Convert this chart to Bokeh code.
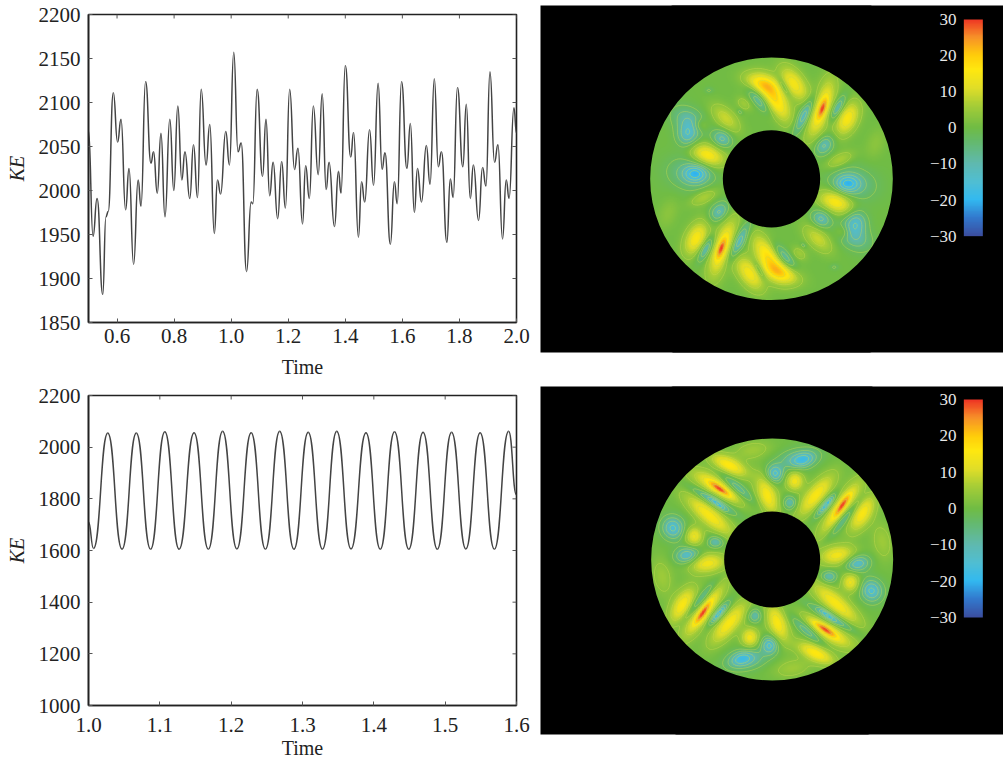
import numpy as np
from bokeh.embed import file_html
from bokeh.resources import INLINE
from bokeh.core.properties import value
from bokeh.layouts import column, row
from bokeh.models import ColumnDataSource, FixedTicker, LinearColorMapper, NumeralTickFormatter, Range1d
from bokeh.plotting import figure

FONT = "Liberation Serif"

# ---- Upper time series: successive extrema of KE(t)
top_t = [0.5, 0.516, 0.530, 0.550, 0.561, 0.569, 0.587, 0.602, 0.614, 0.630, 0.642, 0.658, 0.674, 0.684, 0.700, 0.719,
         0.728, 0.741, 0.754, 0.768, 0.785, 0.799, 0.813, 0.827, 0.838, 0.855, 0.868, 0.882, 0.895, 0.912, 0.925, 0.941,
         0.952, 0.963, 0.981, 0.994, 1.009, 1.024, 1.035, 1.054, 1.070, 1.076, 1.091, 1.110, 1.122, 1.135, 1.147, 1.163,
         1.177, 1.190, 1.205, 1.222, 1.234, 1.250, 1.261, 1.274, 1.288, 1.305, 1.319, 1.333, 1.343, 1.362, 1.376, 1.385,
         1.400, 1.419, 1.429, 1.446, 1.457, 1.468, 1.485, 1.499, 1.515, 1.529, 1.539, 1.558, 1.572, 1.582, 1.597, 1.616,
         1.628, 1.642, 1.653, 1.667, 1.684, 1.697, 1.712, 1.726, 1.737, 1.756, 1.768, 1.778, 1.793, 1.812, 1.824, 1.838,
         1.849, 1.867, 1.881, 1.893, 1.907, 1.923, 1.935, 1.951, 1.964, 1.974, 1.991, 2.0]
top_ke = [2068, 1948, 1991, 1882, 1970, 1976, 2111, 2055, 2081, 1978, 2025, 1916, 2012, 1982, 2124, 2031,
          2044, 1997, 2065, 1970, 2081, 2000, 2096, 2012, 2044, 1991, 2052, 1992, 2115, 2029, 2075, 1951,
          2012, 1996, 2067, 2029, 2157, 2044, 2054, 1908, 1987, 1985, 2115, 2016, 2081, 1994, 2032, 1968,
          2033, 1980, 2115, 2024, 2048, 1962, 2028, 1991, 2096, 2018, 2110, 2001, 2032, 1959, 2022, 1997,
          2142, 2038, 2066, 1947, 2010, 1987, 2069, 2006, 2122, 2024, 2043, 1939, 2010, 1985, 2124, 2025,
          2076, 1975, 2025, 1987, 2051, 2007, 2127, 2027, 2044, 1941, 2013, 1992, 2117, 2027, 2098, 1991,
          2029, 1966, 2026, 2005, 2135, 2032, 2052, 1945, 2012, 1991, 2094, 2065]

# ---- Lower time series: successive extrema of KE(t)
low_t = [1.0, 1.007, 1.027, 1.047, 1.067, 1.087, 1.107, 1.127, 1.148, 1.168, 1.188, 1.208, 1.228, 1.248, 1.268, 1.288,
         1.308, 1.328, 1.348, 1.368, 1.389, 1.409, 1.429, 1.449, 1.469, 1.489, 1.509, 1.529, 1.549, 1.569, 1.589, 1.6]
low_ke = [1710, 1608, 2055, 1605, 2055, 1605, 2060, 1605, 2056, 1605, 2062, 1606, 2056, 1605, 2062, 1605,
          2058, 1605, 2062, 1606, 2056, 1605, 2060, 1605, 2058, 1605, 2058, 1606, 2056, 1605, 2062, 1815]

top_xticks = [0.6, 0.8, 1.0, 1.2, 1.4, 1.6, 1.8, 2.0]
top_yticks = [1850, 1900, 1950, 2000, 2050, 2100, 2150, 2200]
low_xticks = [1.0, 1.1, 1.2, 1.3, 1.4, 1.5, 1.6]
low_yticks = [1000, 1200, 1400, 1600, 1800, 2000, 2200]

# ---- Colour scale
bar_ticks = [30, 20, 10, 0, -10, -20, -30]
bar_labels = ["30", "20", "10", "0", "\u221210", "\u221220", "\u221230"]

# ---- Flow-field features read off each ring, as seen in the crops of the reference:
# centre x, centre y (crop pixels), value, half length, half width, tilt in degrees.
# Only one half of each ring is listed: the other half is its point reflection.
ring1_x = [540, 545, 495, 590, 620, 460, 360, 405, 355, 430, 310, 298, 255, 205, 245, 180, 140, 145, 200, 165, 150, 190, 550, 705]
ring1_y = [175, 175, 190, 175, 205, 100, 100, 150, 150, 110, 160, 185, 205, 120, 265, 225, 255, 210, 315, 370, 370, 440, 285, 280]
ring1_v = [17, 13, -15, -13, 15, 14, 14, 17, -10, -8, 5, -5, 9, -3, -11, 6, -12, -9, 16, -14, -7, 7, -11, 3]
ring1_a = [75, 26, 55, 35, 45, 50, 45, 60, 42, 28, 22, 8, 45, 12, 25, 20, 30, 45, 45, 30, 60, 38, 28, 40]
ring1_b = [22, 7, 13, 12, 22, 22, 20, 22, 12, 8, 12, 5, 20, 7, 18, 14, 22, 25, 22, 18, 35, 14, 17, 20]
ring1_t = [-72, -70, -62, -60, -65, 55, 20, 60, 50, 60, 40, 40, 45, 0, 30, 20, 90, 30, 20, 0, 10, -25, -45, -70]

ring2_x = [238, 235, 232, 215, 290, 265, 205, 380, 448, 403, 488, 470, 462, 525, 558, 555, 605, 600, 665, 610, 590, 225, 140, 97, 160, 335, 725]
ring2_y = [177, 170, 222, 210, 175, 105, 255, 195, 218, 130, 90, 85, 152, 195, 222, 225, 225, 235, 250, 265, 375, 335, 375, 293, 318, 60, 334]
ring2_v = [14, 16, -9, -13, -13, 16, 15, 15, -10, -15, -10, -9, 14, 15, -9, -13, 14, 16, 15, -13, 14, -10, -14, -15, 13, 5, 5]
ring2_a = [32, 75, 22, 60, 55, 50, 75, 50, 18, 22, 30, 50, 22, 65, 22, 40, 33, 80, 50, 60, 45, 20, 30, 28, 22, 50, 50]
ring2_b = [7, 20, 6, 11, 13, 17, 20, 20, 15, 18, 15, 20, 20, 20, 6, 11, 7, 20, 20, 11, 20, 13, 17, 22, 20, 20, 22]
ring2_t = [35, 28, 40, 30, 40, 25, 40, 70, 0, 80, -20, -10, 0, -50, -50, -48, -55, -55, -60, -50, -8, 0, -10, 60, 0, -10, 80]

colour_stops = [(-30, (59, 78, 160)), (-25, (50, 120, 205)), (-20, (50, 185, 240)), (-15, (80, 190, 210)),
                (-10, (95, 185, 175)), (-4, (100, 185, 110)), (0, (112, 188, 68)), (6, (165, 205, 55)),
                (11, (225, 222, 40)), (16, (255, 232, 15)), (20, (255, 205, 10)), (25, (247, 145, 40)), (30, (238, 53, 36))]


def make_palette():
    vals = np.linspace(-30, 30, 256)
    sv = [s[0] for s in colour_stops]
    out = []
    for v in vals:
        rgb = [int(round(np.interp(v, sv, [s[1][k] for s in colour_stops]))) for k in range(3)]
        out.append("#%02x%02x%02x" % tuple(rgb))
    return out


palette = make_palette()
mapper = LinearColorMapper(palette=palette, low=-30, high=30)


def series_figure(h, top, bottom, xr, yr, xticks, yticks, ts, ke, lab_standoff, title_standoff):
    p = figure(width=540, height=h, x_range=Range1d(*xr), y_range=Range1d(*yr), toolbar_location=None,
               output_backend="svg", min_border_left=88, min_border_right=24, min_border_top=top,
               min_border_bottom=bottom, background_fill_color="white", border_fill_color="white",
               outline_line_color="#222222", outline_line_width=1.6)
    p.xgrid.visible = False
    p.ygrid.visible = False
    x0, y0 = np.array(ts[:-1]), np.array(ke[:-1])
    x1, y1 = np.array(ts[1:]), np.array(ke[1:])
    d = (x1 - x0) * 0.5
    src = ColumnDataSource(dict(x0=x0, y0=y0, x1=x1, y1=y1, cx0=x0 + d, cy0=y0, cx1=x1 - d, cy1=y1))
    p.bezier("x0", "y0", "x1", "y1", "cx0", "cy0", "cx1", "cy1", source=src, line_color="#444444", line_width=1.5)

    for ax, ticks in ((p.xaxis[0], xticks), (p.yaxis[0], yticks)):
        ax.ticker = FixedTicker(ticks=ticks)
        ax.minor_tick_line_color = None
        ax.major_tick_in = 4
        ax.major_tick_out = 0
        ax.major_tick_line_color = "#555555"
        ax.axis_line_color = "#222222"
        ax.axis_line_width = 1.6
        ax.major_label_text_font = FONT
        ax.major_label_text_font_size = "21px"
        ax.major_label_text_color = "#222222"
        ax.axis_label_text_font = FONT
        ax.axis_label_text_color = "#222222"
    p.xaxis[0].major_label_standoff = lab_standoff
    p.xaxis[0].formatter = NumeralTickFormatter(format="0.0")
    p.xaxis[0].axis_label = "Time"
    p.xaxis[0].axis_label_text_font_style = "normal"
    p.xaxis[0].axis_label_text_font_size = "20px"
    p.xaxis[0].axis_label_standoff = title_standoff
    p.yaxis[0].major_label_standoff = 8
    p.yaxis[0].major_label_orientation = "horizontal"
    p.yaxis[0].axis_label = "KE"
    p.yaxis[0].axis_label_text_font_style = "italic"
    p.yaxis[0].axis_label_text_font_size = "20px"
    p.yaxis[0].axis_label_standoff = 8

    # short inward ticks on the top and right sides of the box
    tick_y = (yr[1] - yr[0]) * 4 / (h - top - bottom)
    tick_x = (xr[1] - xr[0]) * 4 / 428
    p.segment(x0=xticks, x1=xticks, y0=[yr[1]] * len(xticks), y1=[yr[1] - tick_y] * len(xticks),
              line_color="#555555", line_width=1)
    p.segment(x0=[xr[1]] * len(yticks), x1=[xr[1] - tick_x] * len(yticks), y0=yticks, y1=yticks,
              line_color="#555555", line_width=1)
    return p


def ring_figure(h, top, bottom, zy_lo, zy_hi, cx, cy, r_out, r_in, xs, ys, vs, aa, bb, tt, bar_lo, bar_hi):
    p = figure(width=463, height=h, x_range=Range1d(-300, 1089), y_range=Range1d(-zy_hi, -zy_lo),
               toolbar_location=None, output_backend="svg", min_border_left=0, min_border_right=0, min_border_top=top,
               min_border_bottom=bottom, background_fill_color="black", border_fill_color="white",
               outline_line_color=None, x_axis_type=None, y_axis_type=None)
    p.xgrid.visible = False
    p.ygrid.visible = False
    half = 400
    n = 401
    gx = np.linspace(cx - half, cx + half, n)
    gy = np.linspace(cy - half, cy + half, n)   # crop pixels, growing downward
    X, Y = np.meshgrid(gx, gy)
    Z = np.zeros_like(X)
    for zx, zy, v, a, b, t in zip(xs, ys, vs, aa, bb, tt):
        for px, py in ((zx, zy), (2 * cx - zx, 2 * cy - zy)):
            th = np.radians(t)
            dx, dy = X - px, Y - py
            u = dx * np.cos(th) + dy * np.sin(th)
            w = -dx * np.sin(th) + dy * np.cos(th)
            Z += v * np.exp(-(u ** 2 / (2 * (a / 1.2) ** 2) + w ** 2 / (2 * (b / 1.0) ** 2)))
    Z = np.clip(Z, -30, 30)
    field = Z[::-1]                 # first row = lowest on screen
    p.image(image=[field], x=cx - half, y=-(cy + half), dw=2 * half, dh=2 * half, color_mapper=mapper)
    levels = [-26, -22, -18, -14, -10, -6, -2.5, 3, 7, 12, 18, 24]
    p.contour(gx, -gy[::-1], field, levels, line_color="#c8dc50", line_width=0.7, line_alpha=0.7)
    p.annulus(x=[cx], y=[-cy], inner_radius=r_out, outer_radius=600, fill_color="black", line_color=None)
    p.circle(x=[cx], y=[-cy], radius=r_in, fill_color="black", line_color=None)

    # colour bar, labelled on its left as in the reference
    grad = np.linspace(-30, 30, 256).reshape(256, 1)
    p.image(image=[grad], x=970, y=-bar_hi, dw=57, dh=bar_hi - bar_lo, color_mapper=mapper)
    ty = [-(bar_lo + (30 - v) / 60 * (bar_hi - bar_lo)) for v in bar_ticks]
    p.text(x=[948] * len(ty), y=ty, text=bar_labels, text_font=value(FONT), text_font_size="17px",
           text_color="#e8e8e8", text_align="right", text_baseline="middle")
    return p


p1 = series_figure(380, 14, 57, (0.5, 2.0), (1850, 2200), top_xticks, top_yticks, top_t, top_ke, 6, 10)
p3 = series_figure(381, 15, 56, (1.0, 1.6), (1000, 2200), low_xticks, low_yticks, low_t, low_ke, 12, 2)
p2 = ring_figure(386, 5, 34, -135, 906, 393, 385, 364, 146, ring1_x, ring1_y, ring1_v, ring1_a, ring1_b, ring1_t, -93, 557)
p4 = ring_figure(375, 0, 27, -132, 912, 395, 387, 363, 144, ring2_x, ring2_y, ring2_v, ring2_a, ring2_b, ring2_t, -93, 561)

layout = row(column(p1, p3, spacing=0), column(p2, p4, spacing=0), spacing=0)
open("out.html", "w").write(file_html(layout, INLINE))
